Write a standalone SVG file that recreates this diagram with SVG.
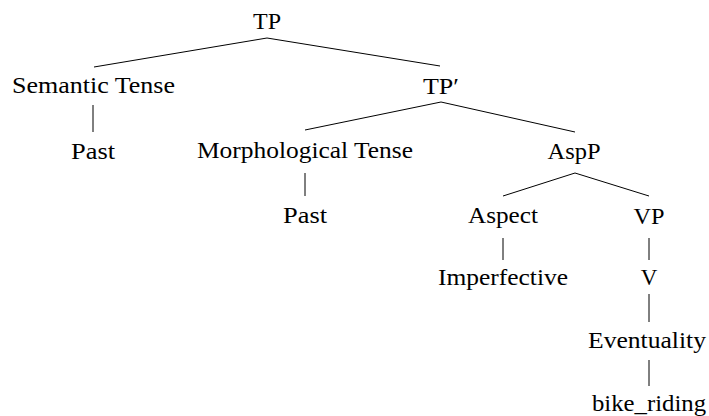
<svg xmlns="http://www.w3.org/2000/svg" width="709" height="416" viewBox="0 0 709 416">
<style>
text { font-family: "Liberation Serif", "Times New Roman", serif; font-size: 23px; fill: #000; text-anchor: middle; }
.edge { stroke: #000; stroke-width: 1; fill: none; }
</style>
<rect width="709" height="416" fill="#fff"/>
<g id="connectors">
<line class="edge" x1="267" y1="38" x2="94" y2="67"/>
<line class="edge" x1="267" y1="38" x2="440" y2="66"/>
<line class="edge" x1="93" y1="105" x2="93" y2="132"/>
<line class="edge" x1="441" y1="102" x2="305" y2="130"/>
<line class="edge" x1="441" y1="102" x2="575" y2="132"/>
<line class="edge" x1="305" y1="173" x2="305" y2="196"/>
<line class="edge" x1="575" y1="173" x2="503" y2="196"/>
<line class="edge" x1="575" y1="173" x2="649" y2="196"/>
<line class="edge" x1="503" y1="238" x2="503" y2="260"/>
<line class="edge" x1="649" y1="238" x2="649" y2="260"/>
<line class="edge" x1="649" y1="294" x2="649" y2="322"/>
<line class="edge" x1="649" y1="360" x2="649" y2="386"/>
</g>
<g id="TP"><text x="267" y="29" textLength="28" lengthAdjust="spacingAndGlyphs">TP</text></g>
<g id="SemanticTense"><text x="93.5" y="93" textLength="163" lengthAdjust="spacingAndGlyphs">Semantic Tense</text></g>
<g id="TPbar"><text x="441" y="94" textLength="36" lengthAdjust="spacingAndGlyphs">TP′</text></g>
<g id="Past1"><text x="93" y="159" textLength="44" lengthAdjust="spacingAndGlyphs">Past</text></g>
<g id="MorphologicalTense"><text x="305" y="158" textLength="216" lengthAdjust="spacingAndGlyphs">Morphological Tense</text></g>
<g id="AspP"><text x="574" y="159" textLength="53" lengthAdjust="spacingAndGlyphs">AspP</text></g>
<g id="Past2"><text x="305" y="223" textLength="44" lengthAdjust="spacingAndGlyphs">Past</text></g>
<g id="Aspect"><text x="503" y="223" textLength="70" lengthAdjust="spacingAndGlyphs">Aspect</text></g>
<g id="VP"><text x="649" y="224" textLength="31" lengthAdjust="spacingAndGlyphs">VP</text></g>
<g id="Imperfective"><text x="503" y="285" textLength="130" lengthAdjust="spacingAndGlyphs">Imperfective</text></g>
<g id="V"><text x="649" y="285">V</text></g>
<g id="Eventuality"><text x="647" y="348" textLength="118" lengthAdjust="spacingAndGlyphs">Eventuality</text></g>
<g id="bike_riding"><text x="649" y="411" textLength="114" lengthAdjust="spacingAndGlyphs">bike_riding</text></g>
</svg>
